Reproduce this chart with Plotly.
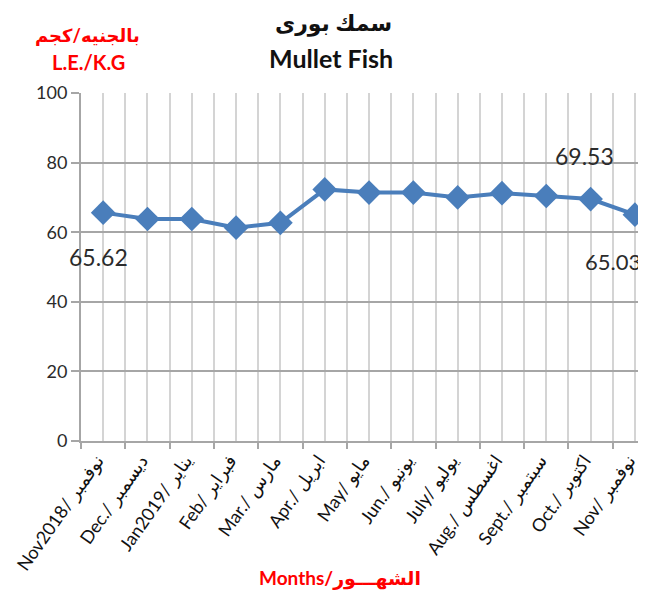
import plotly.graph_objects as go

months = ["Nov2018/ نوفمبر", "Dec./ ديسمبر", "Jan2019/ يناير", "Feb/ فبراير",
          "Mar./ مارس", "Apr./ ابريل", "May/ مايو", "Jun./ يونيو",
          "July/ يوليو", "Aug./ اغسطس", "Sept./ سبتمبر", "Oct./ اكتوبر",
          "Nov/ نوفمبر"]
prices = [65.62, 63.8, 63.8, 61.3, 62.7, 72.3, 71.4, 71.4, 70.0, 71.2, 70.4, 69.53, 65.03]
y_ticks = [0, 20, 40, 60, 80, 100]

xs = list(range(len(months)))
font = "Lato, 'DejaVu Sans', sans-serif"
PLOT_H = 348  # plot area height in px, used to place paper annotations


def py(pix):
    # pixel row (page) -> paper y
    return (441 - pix) / PLOT_H


def px_(pix):
    return (pix - 81) / 565


fig = go.Figure()
fig.add_trace(go.Scatter(
    x=xs, y=prices, mode="lines+markers",
    line=dict(color="#4a7ebb", width=4),
    marker=dict(symbol="diamond", size=19, color="#4a7ebb"),
    showlegend=False, hoverinfo="skip"))

# labelled points: first, Oct, last
lab_font = dict(family=font, size=23, color="#2b2b2b")
fig.add_annotation(x=xs[0], y=prices[0], text=f"{prices[0]:.2f}", showarrow=False,
                   xanchor="center", yanchor="middle", xshift=-5, yshift=-44, font=lab_font)
fig.add_annotation(x=xs[11], y=prices[11], text=f"{prices[11]:.2f}", showarrow=False,
                   xanchor="center", yanchor="middle", xshift=-6, yshift=43, font=lab_font)
fig.add_annotation(x=xs[12], y=prices[12], text=f"{prices[12]:.2f}", showarrow=False,
                   xanchor="right", yanchor="middle", xshift=8, yshift=-47,
                   font=dict(family=font, size=22, color="#2b2b2b"))

# page body has an 8px margin, so the figure is 8px smaller on each side
fig.update_layout(
    width=638, height=587,
    margin=dict(l=73, r=0, t=85, b=154),
    plot_bgcolor="white", paper_bgcolor="white",
    font=dict(family=font, color="#222222"),
    xaxis=dict(
        range=[-0.5, 12.25], tickmode="array", tickvals=xs, ticktext=months,
        tickangle=-55, ticks="", showgrid=True, gridcolor="#d4d4d4", gridwidth=1.5,
        tickfont=dict(size=18, color="#111111"), zeroline=False, automargin=False,
        ticklabeloverflow="allow", ticklabelshift=-6,
        showline=True, linecolor="#a6a6a6", linewidth=2,
        minor=dict(tickmode="array", tickvals=[v - 0.5 for v in xs] + [12.5],
                   ticks="outside", ticklen=6, tickcolor="#a6a6a6", tickwidth=1.5,
                   showgrid=True, gridcolor="#d4d4d4", gridwidth=1.5),
    ),
    yaxis=dict(
        range=[0, 100], tickmode="array", tickvals=y_ticks, automargin=False,
        ticks="outside", ticklen=8, tickcolor="#a6a6a6", tickwidth=1.5,
        showgrid=True, gridcolor="#a6a6a6", gridwidth=1.5,
        showline=True, linecolor="#a6a6a6", linewidth=2, zeroline=False,
        tickfont=dict(size=18, color="#2b2b2b"),
    ),
)

fig.add_annotation(text="<b>سمك بورى</b>", xref="paper", yref="paper",
                   x=px_(333), y=py(23), xanchor="center", yanchor="middle",
                   showarrow=False, font=dict(family=font, size=22, color="#111111"))
fig.add_annotation(text="<b>Mullet Fish</b>", xref="paper", yref="paper",
                   x=px_(331), y=py(58), xanchor="center", yanchor="middle",
                   showarrow=False, font=dict(family=font, size=25, color="#111111"))
fig.add_annotation(text="<b>بالجنيه/كجم</b>", xref="paper", yref="paper",
                   x=px_(87), y=py(35), xanchor="center", yanchor="middle",
                   showarrow=False, font=dict(family=font, size=18, color="red"))
fig.add_annotation(text="<b>L.E./K.G</b>", xref="paper", yref="paper",
                   x=px_(88), y=py(62), xanchor="center", yanchor="middle",
                   showarrow=False, font=dict(family=font, size=20, color="red"))
fig.add_annotation(text="<b>Months/الشهـــور</b>", xref="paper", yref="paper",
                   x=px_(340), y=py(578), xanchor="center", yanchor="middle",
                   showarrow=False, font=dict(family=font, size=19, color="red"))

fig.write_html("out.html")
